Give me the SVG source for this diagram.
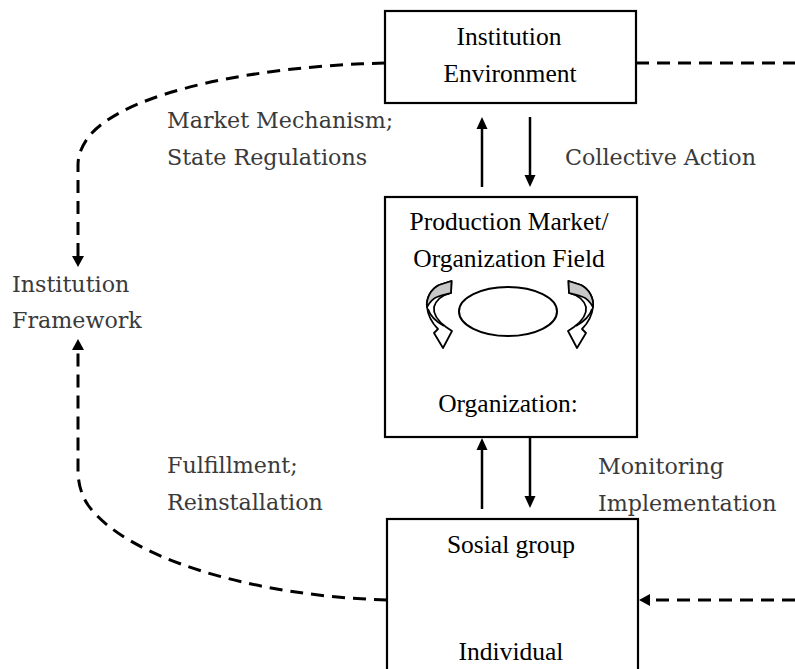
<svg xmlns="http://www.w3.org/2000/svg" width="795" height="669" viewBox="0 0 795 669">
<defs>
<style>
.box{fill:#fff;stroke:#000;stroke-width:2.2}
.bt{font-family:'Liberation Serif',serif;font-size:25.5px;fill:#000;text-anchor:middle}
.lb{font-family:'DejaVu Serif',serif;font-size:22.2px;fill:#3a3a3a}
.sa{fill:none;stroke:#000;stroke-width:2.5;marker-end:url(#ah)}
.da{fill:none;stroke:#000;stroke-width:3;stroke-dasharray:13 8}
.dam{marker-end:url(#dh)}
.ca{stroke:#000;stroke-width:1.8;stroke-linejoin:round}
</style>
<marker id="ah" viewBox="0 0 12 12" refX="1" refY="6" markerWidth="12" markerHeight="12" markerUnits="userSpaceOnUse" orient="auto">
<path d="M0,0.5 L12,6 L0,11.5 Z" fill="#000"/>
</marker>
<marker id="dh" viewBox="0 0 11 12" refX="1" refY="6" markerWidth="11" markerHeight="12" markerUnits="userSpaceOnUse" orient="auto">
<path d="M0,0 L11,6 L0,12 Z" fill="#000"/>
</marker>
<g id="curl">
<path class="ca" fill="#fff" d="M451.5,281 L439,285 C431,289 426,298 427,307 C428,316 432,323 438,329 L434,333 L443,348 L452,331 L446,327 C438,321 433,314 434,307 C436,300 443,295 451,293 Z"/>
<path class="ca" fill="#c8c8c8" d="M451.5,281 L439,285 C431,289 426,298 427,307 C430,302 434,298 437,297 C442,295 447,294 451,293 Z"/>
<path class="ca" fill="none" d="M428,309 C430,316 437,322 444,326"/>
</g>
</defs>

<g id="connectors">
<path class="sa" d="M482,187 L482,128"/>
<path class="sa" d="M530,117 L530,176"/>
<path class="sa" d="M482,509 L482,449"/>
<path class="sa" d="M530,438 L530,497"/>
<path class="sa" d="M491,608 L491,578"/>
<path class="sa" d="M522,567 L522,597"/>
<path class="da dam" d="M385,63 C260,66 130,90 90,135 Q78,150 78,165 L78,257"/>
<path class="da dam" d="M387,600 C250,596 125,557 88,505 Q78,490 78,470 L78,349"/>
<path class="da" d="M636,63 L795,63"/>
<path class="da dam" d="M795,600 L649,600"/>
</g>

<g id="institution-environment">
<rect class="box" x="385" y="11" width="251" height="92"/>
<text class="bt" x="509" y="45">Institution</text>
<text class="bt" x="510" y="82">Environment</text>
</g>

<g id="production-market">
<rect class="box" x="385" y="197" width="252" height="240"/>
<text class="bt" x="509" y="230">Production Market/</text>
<text class="bt" x="509" y="267">Organization Field</text>
<ellipse cx="508" cy="311.5" rx="49" ry="24.5" fill="#fff" stroke="#000" stroke-width="2"/>
<use href="#curl"/>
<use href="#curl" transform="translate(1020,0) scale(-1,1)"/>
<text class="bt" x="508" y="412">Organization:</text>
</g>

<g id="social-group">
<rect class="box" x="387" y="519" width="251" height="160"/>
<text class="bt" x="511" y="553">Sosial group</text>
<text class="bt" x="511" y="660">Individual</text>
</g>

<g id="institution-framework">
<text class="lb" x="12" y="292">Institution</text>
<text class="lb" x="12" y="328">Framework</text>
</g>

<g id="labels">
<text class="lb" x="167" y="128">Market Mechanism;</text>
<text class="lb" x="167" y="165">State Regulations</text>
<text class="lb" x="565" y="165">Collective Action</text>
<text class="lb" x="167" y="473">Fulfillment;</text>
<text class="lb" x="167" y="510">Reinstallation</text>
<text class="lb" x="598" y="474">Monitoring</text>
<text class="lb" x="598" y="511">Implementation</text>
</g>
</svg>
